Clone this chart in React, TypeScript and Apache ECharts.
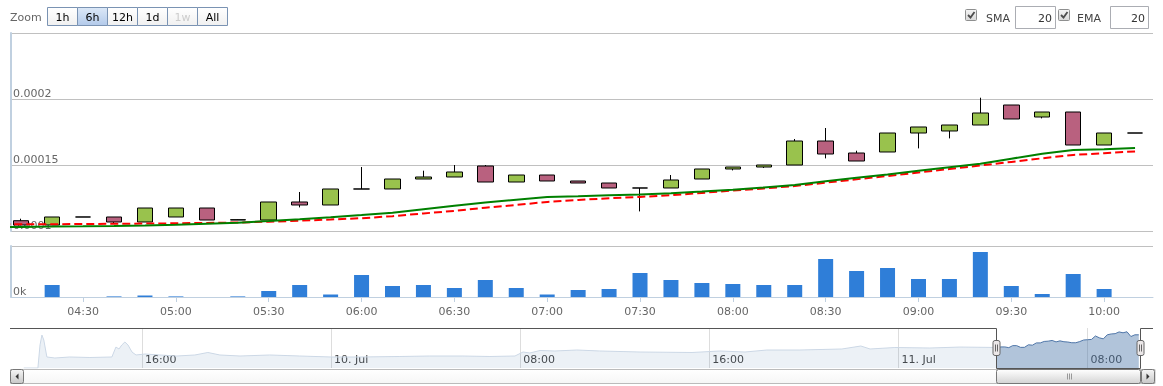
import React, { useEffect, useRef } from 'react';
import * as echarts from 'echarts';

// ---------- data ----------
const candleTimes = [
  '04:10', '04:20', '04:30', '04:40', '04:50', '05:00', '05:10', '05:20', '05:30', '05:40',
  '05:50', '06:00', '06:10', '06:20', '06:30', '06:40', '06:50', '07:00', '07:10', '07:20',
  '07:30', '07:40', '07:50', '08:00', '08:10', '08:20', '08:30', '08:40', '08:50', '09:00',
  '09:10', '09:20', '09:30', '09:40', '09:50', '10:00', '10:10',
];
const opens = [
  0.0001078, 0.00010455, 0.00011061, 0.00011061, 0.00010682, 0.00011061, 0.00011742, 0.00010833, 0.00010833, 0.00012197,
  0.0001197, 0.00013182, 0.00013182, 0.00013939, 0.00014091, 0.00014924, 0.00013712, 0.00014242, 0.00013788, 0.00013636,
  0.00013258, 0.00013258, 0.00013939, 0.00014697, 0.00014848, 0.00015, 0.00016818, 0.00015909, 0.00015985, 0.00017424,
  0.00017576, 0.0001803, 0.00019545, 0.00018636, 0.00019015, 0.00016515, 0.00017424,
];
const closes = [
  0.00010455, 0.00011061, 0.00011061, 0.00010682, 0.00011742, 0.00011742, 0.00010833, 0.00010856, 0.00012197, 0.0001197,
  0.00013182, 0.00013182, 0.00013939, 0.00014091, 0.0001447, 0.00013712, 0.00014242, 0.00013788, 0.00013636, 0.00013258,
  0.00013258, 0.00013864, 0.00014697, 0.00014848, 0.00015, 0.00016818, 0.00015833, 0.00015303, 0.00017424, 0.00017879,
  0.0001803, 0.00018939, 0.00018485, 0.00019015, 0.00016515, 0.00017424, 0.00017424,
];
const lows = [
  0.0001043, 0.00010455, 0.00011061, 0.00010606, 0.00010682, 0.00011061, 0.00010833, 0.00010833, 0.00010833, 0.00011788,
  0.0001197, 0.00013182, 0.00013182, 0.00013939, 0.00014091, 0.00013712, 0.00013712, 0.00013788, 0.00013636, 0.00013258,
  0.00011485, 0.00013258, 0.00013939, 0.00014591, 0.00014773, 0.00015, 0.000155, 0.00015303, 0.00015985, 0.00016258,
  0.00017015, 0.0001803, 0.00018485, 0.0001853, 0.00016515, 0.00016515, 0.00017424,
];
const highs = [
  0.00010932, 0.00011061, 0.00011061, 0.00011061, 0.00011742, 0.00011742, 0.00011742, 0.00010879, 0.00012197, 0.00012955,
  0.00013182, 0.00014848, 0.00013939, 0.00014568, 0.00015, 0.00015, 0.00014242, 0.00014242, 0.00013788, 0.00013636,
  0.00013258, 0.00014242, 0.00014697, 0.00014848, 0.00015, 0.0001697, 0.00017803, 0.00016083, 0.00017424, 0.00017879,
  0.0001803, 0.00020098, 0.00019545, 0.00019015, 0.00019015, 0.00017424, 0.00017424,
];
const volumes = [
  0, 120, 0, 6, 15, 6, 0, 6, 60, 120,
  25, 220, 110, 120, 90, 170, 90, 25, 70, 80,
  240, 170, 140, 130, 120, 120, 380, 260, 290, 180,
  180, 450, 110, 30, 230, 80, 0,
];
const maTimes = ['04:00', ...candleTimes];
const smaValues = [
  0.00010288, 0.00010311, 0.00010333, 0.00010356, 0.00010386, 0.00010424, 0.00010477, 0.00010553, 0.00010629, 0.00010758,
  0.00010894, 0.00011045, 0.00011212, 0.00011386, 0.00011652, 0.00011917, 0.00012167, 0.00012371, 0.00012568, 0.00012636,
  0.00012712, 0.00012773, 0.00012864, 0.00012992, 0.00013129, 0.00013303, 0.00013492, 0.00013773, 0.00014038, 0.00014288,
  0.00014568, 0.00014833, 0.00015098, 0.00015477, 0.00015856, 0.00016136, 0.00016197, 0.00016288,
];
const emaValues = [
  0.000105, 0.00010508, 0.00010515, 0.0001053, 0.00010545, 0.00010561, 0.00010583, 0.00010614, 0.00010644, 0.00010705,
  0.0001078, 0.00010871, 0.0001097, 0.00011121, 0.00011333, 0.00011523, 0.00011765, 0.0001197, 0.00012205, 0.00012348,
  0.00012485, 0.00012583, 0.00012712, 0.00012886, 0.00013061, 0.00013227, 0.00013409, 0.00013659, 0.00013917, 0.00014167,
  0.00014432, 0.00014697, 0.00014962, 0.00015235, 0.00015508, 0.00015765, 0.00015894, 0.0001603,
];
const xTickLabels = [
  '04:30', '05:00', '05:30', '06:00', '06:30', '07:00', '07:30', '08:00', '08:30', '09:00', '09:30', '10:00',
];
// navigator: hours counted from 9 Jul 00:00
const navHours = [
  11.0, 11.6, 11.69, 11.77, 11.85, 11.98, 12.32, 12.95, 13.8, 14.73,
  14.9, 15.03, 15.15, 15.28, 15.41, 15.58, 15.75, 16.13, 16.76, 17.48,
  18.24, 18.79, 19.3, 20.15, 21.41, 22.68, 24.0, 25.22, 26.91, 28.18,
  29.54, 30.72, 31.78, 32.12, 32.41, 32.84, 33.47, 34.4, 35.37, 37.07,
  39.27, 40.45, 41.51, 42.44, 43.83, 45.61, 46.41, 46.8, 47.85, 49.33,
  50.6, 52.0,
];
const navValues = [
  0, 0, 0.000121, 0.000173, 0.000147, 0.0000578, 0.0000525, 0.0000578, 0.0000551, 0.0000578,
  0.00011, 0.0000998, 0.000121, 0.0001365, 0.000121, 0.000084, 0.0000683, 0.0000735, 0.0000683, 0.000063,
  0.0000683, 0.0000814, 0.0000683, 0.000063, 0.0000683, 0.000063, 0.0000578, 0.0000578, 0.0000604, 0.000063,
  0.000063, 0.0000604, 0.000063, 0.000084, 0.0000788, 0.0000919, 0.0000893, 0.0000945, 0.0000893, 0.000084,
  0.0000814, 0.0000893, 0.000084, 0.0000945, 0.0000945, 0.0000998, 0.0001155, 0.0000998, 0.0001076, 0.000105,
  0.00011, 0.000108,
];
const navTickHours = [16, 24, 32, 40, 48, 56];
const navTickLabels = ['16:00', '10. Jul', '08:00', '16:00', '11. Jul', '08:00'];
const zoomButtons = ['1h', '6h', '12h', '1d', '1w', 'All'];
const selectedZoom = '6h';
const disabledZoom = '1w';
const smaPeriod = '20';
const emaPeriod = '20';

// ---------- helpers ----------
const FONT = '"DejaVu Sans", Verdana, sans-serif';
const toMin = (s: string) => {
  const [h, m] = s.split(':').map(Number);
  return h * 60 + m;
};
const pad = (n: number) => String(n).padStart(2, '0');
const fmtMin = (v: number) => {
  const t = Math.round(v);
  return pad(Math.floor(t / 60)) + ':' + pad(t % 60);
};
const X_MIN = toMin('04:10') - 3.3;
const X_MAX = toMin('10:10') + 5.8;
const NAV_MIN = 10.42;
const NAV_MAX = 58.26;
const DAY_H = 48; // 11 Jul 00:00 in navigator hours

const grad = (a: string, b: string) => ({
  type: 'linear', x: 0, y: 0, x2: 0, y2: 1,
  colorStops: [{ offset: 0, color: a }, { offset: 1, color: b }],
});

export default function App() {
  const ref = useRef<HTMLDivElement>(null);

  useEffect(() => {
    const chart = echarts.init(ref.current!, null, { renderer: 'svg' });

    const candleData = candleTimes.map((t, i) => [toMin(t), opens[i], closes[i], lows[i], highs[i]]);
    const volData = candleTimes.map((t, i) => [toMin(t), volumes[i]]);
    const smaData = maTimes.map((t, i) => [toMin(t), smaValues[i]]);
    const emaData = maTimes.map((t, i) => [toMin(t), emaValues[i]]);
    const selData = candleTimes.map((t, i) => [DAY_H + toMin(t) / 60, closes[i]]);
    const navData = navHours.map((h, i) => [h, navValues[i]]).concat([selData[0]]);
    const xTicks = xTickLabels.map(toMin);

    const option: any = {
      animation: false,
      textStyle: { fontFamily: FONT },
      grid: [
        { left: 11, top: 33, width: 1142, height: 198 },
        { left: 11, top: 246, width: 1142, height: 51 },
        { left: 10, top: 328, width: 1131, height: 40 },
      ],
      xAxis: [
        { type: 'value', gridIndex: 0, min: X_MIN, max: X_MAX, show: false },
        {
          type: 'value', gridIndex: 1, min: X_MIN, max: X_MAX, offset: 5,
          axisLine: { show: true, lineStyle: { color: '#C0D0E0', width: 1 } },
          axisTick: { show: true, customValues: xTicks, length: 5, lineStyle: { color: '#C0D0E0' } },
          axisLabel: { customValues: xTicks, formatter: (v: number) => fmtMin(v), color: '#666', fontSize: 11, margin: 4, fontFamily: FONT },
          splitLine: { show: false },
        },
        {
          type: 'value', gridIndex: 2, min: NAV_MIN, max: NAV_MAX,
          axisLine: { show: false },
          axisTick: { show: false, customValues: navTickHours },
          axisLabel: {
            customValues: navTickHours, inside: true, align: 'left', margin: 3, padding: [0, 0, 0, 3],
            color: '#444', fontSize: 11, fontFamily: FONT,
            formatter: (v: number) => {
              const i = navTickHours.findIndex((h) => Math.abs(h - v) < 1e-6);
              return i >= 0 ? navTickLabels[i] : '';
            },
          },
          splitLine: { show: true, lineStyle: { color: '#DDDDDD', width: 1 } },
        },
      ],
      yAxis: [
        {
          type: 'value', gridIndex: 0, min: 0.0001, max: 0.00025, interval: 0.00005,
          axisLine: { show: true, lineStyle: { color: '#C0D0E0', width: 2 } },
          axisTick: { show: false },
          axisLabel: {
            inside: true, margin: 2, verticalAlign: 'bottom', color: '#666', fontSize: 11, fontFamily: FONT,
            showMaxLabel: false, formatter: (v: number) => String(+v.toPrecision(6)),
          },
          splitLine: { show: true, lineStyle: { color: '#C0C0C0', width: 1 } },
        },
        {
          type: 'value', gridIndex: 1, min: 0, max: 510, interval: 510,
          axisLine: { show: true, lineStyle: { color: '#C0D0E0', width: 2 } },
          axisTick: { show: false },
          axisLabel: {
            inside: true, margin: 2, verticalAlign: 'bottom', color: '#666', fontSize: 11, fontFamily: FONT,
            showMaxLabel: false, formatter: (v: number) => Math.round(v / 1000) + 'k',
          },
          splitLine: { show: true, lineStyle: { color: '#C0C0C0', width: 1 } },
        },
        { type: 'value', gridIndex: 2, min: 0, max: 0.00021, show: false },
      ],
      series: [
        {
          name: 'Price', type: 'candlestick', xAxisIndex: 0, yAxisIndex: 0, data: candleData,
          barWidth: 16, z: 2,
          itemStyle: {
            color: '#99C24D', color0: '#B9617F', borderColor: '#000', borderColor0: '#000',
            borderColorDoji: '#000', borderWidth: 1,
          },
        },
        {
          name: 'EMA', type: 'line', xAxisIndex: 0, yAxisIndex: 0, data: emaData, symbol: 'none', z: 3,
          lineStyle: { color: '#FF0000', width: 2, type: [8, 4] },
        },
        {
          name: 'SMA', type: 'line', xAxisIndex: 0, yAxisIndex: 0, data: smaData, symbol: 'none', z: 4,
          lineStyle: { color: '#008000', width: 2 },
        },
        {
          name: 'Volume', type: 'bar', xAxisIndex: 1, yAxisIndex: 1, data: volData, barWidth: 15,
          itemStyle: { color: '#2F7ED8' },
        },
        {
          name: 'NavAll', type: 'line', xAxisIndex: 2, yAxisIndex: 2, data: navData, symbol: 'none',
          lineStyle: { color: '#CCD8E6', width: 1 }, areaStyle: { color: '#4572A7', opacity: 0.1 },
        },
        {
          name: 'NavSel', type: 'line', xAxisIndex: 2, yAxisIndex: 2, data: selData, symbol: 'none',
          lineStyle: { color: '#4F76A8', width: 1 }, areaStyle: { color: '#4572A7', opacity: 0.42 },
        },
      ],
    };
    chart.setOption(option);

    // ---------- UI chrome (range selector, indicator inputs, navigator handles, scrollbar) ----------
    const px = (v: number) => chart.convertToPixel({ xAxisIndex: 2 }, v) as number;
    const py = (v: number) => chart.convertToPixel({ yAxisIndex: 2 }, v) as number;
    const h5 = (v: number) => Math.round(v) + 0.5;
    const selL = h5(px(DAY_H + X_MIN / 60));
    const selR = h5(px(DAY_H + X_MAX / 60)) - 1;
    const navL = h5(px(NAV_MIN));
    const navR = h5(px(NAV_MAX)) - 1;
    const navTop = h5(py(0.00021));
    const navBot = h5(py(0));

    const g: any[] = [];
    const font11 = `11px ${FONT}`;
    g.push({ type: 'text', x: 10, y: 17, style: { text: 'Zoom', font: font11, fill: '#666', textVerticalAlign: 'middle' } });
    zoomButtons.forEach((b, i) => {
      const x = 47.5 + i * 30;
      g.push({
        type: 'rect', shape: { x, y: 7.5, width: 30, height: 18 },
        style: {
          fill: b === selectedZoom ? grad('#DCE8F7', '#B3CAEA') : grad('#FFFFFF', '#F0F0F0'),
          stroke: '#7A93B3', lineWidth: 1,
        },
      });
      g.push({
        type: 'text', x: x + 15, y: 17,
        style: {
          text: b, font: font11, fill: b === disabledZoom ? '#CCCCCC' : '#000',
          textAlign: 'center', textVerticalAlign: 'middle',
        },
      });
    });

    const checkbox = (x0: number) => {
      g.push({
        type: 'rect', shape: { x: x0 + 0.5, y: 9.5, width: 11, height: 11, r: 1 },
        style: { fill: grad('#F4F4F4', '#D8D8D8'), stroke: '#8E8F8F', lineWidth: 1 },
      });
      g.push({
        type: 'polyline', shape: { points: [[x0 + 3, 15], [x0 + 5.5, 17.5], [x0 + 9.5, 12]] },
        style: { stroke: '#4D4D4D', lineWidth: 1.8, fill: 'none' },
      });
    };
    const input = (x0: number, w: number, val: string) => {
      g.push({
        type: 'rect', shape: { x: x0 + 0.5, y: 6.5, width: w, height: 22 },
        style: { fill: '#FFFFFF', stroke: '#ABADB3', lineWidth: 1 },
      });
      g.push({
        type: 'text', x: x0 + w - 3, y: 18,
        style: { text: val, font: font11, fill: '#333', textAlign: 'right', textVerticalAlign: 'middle' },
      });
    };
    checkbox(965);
    g.push({ type: 'text', x: 986, y: 18, style: { text: 'SMA', font: font11, fill: '#444', textVerticalAlign: 'middle' } });
    input(1015, 40, smaPeriod);
    checkbox(1058);
    g.push({ type: 'text', x: 1077, y: 18, style: { text: 'EMA', font: font11, fill: '#444', textVerticalAlign: 'middle' } });
    input(1110, 38, emaPeriod);

    // navigator outline
    g.push({
      type: 'polyline', z: 100,
      shape: { points: [[navL - 0.5, navTop], [selL, navTop], [selL, navBot], [selR, navBot], [selR, navTop], [1153, navTop]] },
      style: { stroke: '#555', lineWidth: 1, fill: 'none' },
    });
    // handles
    [selL, selR].forEach((hx) => {
      g.push({
        type: 'rect', z: 101, shape: { x: hx - 3.5, y: navTop + 12, width: 7, height: 15, r: 2 },
        style: { fill: '#EBE7E8', stroke: '#666', lineWidth: 1 },
      });
      [-1, 1].forEach((d) => {
        g.push({
          type: 'line', z: 102, shape: { x1: hx + d, y1: navTop + 16, x2: hx + d, y2: navTop + 23 },
          style: { stroke: '#666', lineWidth: 1 },
        });
      });
    });
    // scrollbar
    const sbY = navBot + 1;
    g.push({
      type: 'rect', shape: { x: navL, y: sbY, width: 1155 - navL, height: 14 },
      style: { fill: grad('#FFFFFF', '#F6F6F6'), stroke: '#BBBBBB', lineWidth: 1 },
    });
    g.push({
      type: 'rect', shape: { x: selL, y: sbY, width: selR - selL, height: 14, r: 2 },
      style: { fill: grad('#FFFFFF', '#D4D4D4'), stroke: '#777', lineWidth: 1 },
    });
    const cx = Math.round((selL + selR) / 2) + 0.5;
    [-2, 0, 2].forEach((d) => {
      g.push({
        type: 'line', shape: { x1: cx + d, y1: sbY + 4, x2: cx + d, y2: sbY + 10 },
        style: { stroke: '#999', lineWidth: 1 },
      });
    });
    const sbBtn = (x0: number, dir: number) => {
      g.push({
        type: 'rect', shape: { x: x0, y: sbY, width: 13, height: 14, r: 2 },
        style: { fill: grad('#F6F6F6', '#C8C8C8'), stroke: '#777', lineWidth: 1 },
      });
      const c = x0 + 6.5;
      const pts = dir < 0
        ? [[c + 1.5, sbY + 4], [c - 1.5, sbY + 7], [c + 1.5, sbY + 10]]
        : [[c - 1.5, sbY + 4], [c + 1.5, sbY + 7], [c - 1.5, sbY + 10]];
      g.push({ type: 'polygon', shape: { points: pts }, style: { fill: '#333' } });
    };
    sbBtn(navL, -1);
    sbBtn(navR + 1, 1);

    chart.setOption({ graphic: g });

    return () => chart.dispose();
  }, []);

  return <div ref={ref} style={{ position: 'fixed', left: 0, top: 0, width: 1163, height: 386 }} />;
}
